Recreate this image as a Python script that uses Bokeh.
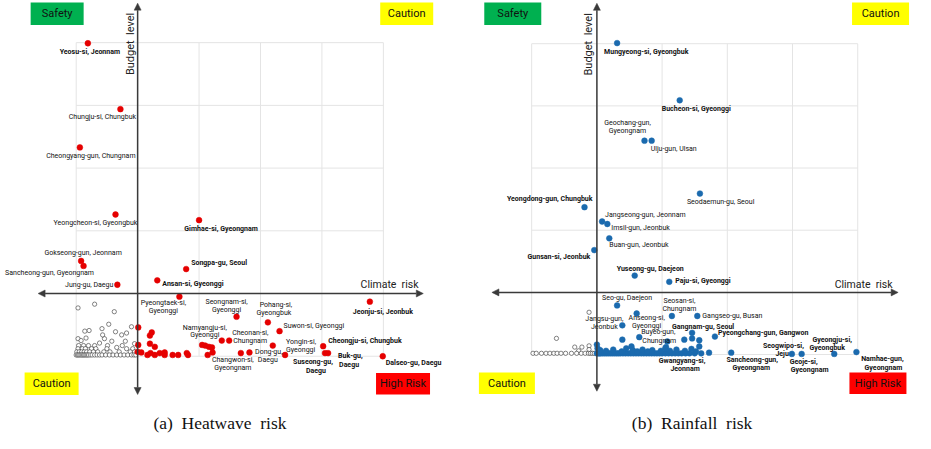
from bokeh.plotting import figure
from bokeh.layouts import row
from bokeh.models import Arrow, NormalHead, ColumnDataSource
from bokeh.core.properties import value
from bokeh.embed import file_html
from bokeh.resources import INLINE

# ---------------- (a) Heatwave risk ----------------
HW_NAMES = ["Yeosu-si, Jeonnam", "Chungju-si, Chungbuk", "Cheongyang-gun, Chungnam",
            "Yeongcheon-si, Gyeongbuk", "Gimhae-si, Gyeongnam", "Gokseong-gun, Jeonnam",
            "Sancheong-gun, Gyeongnam", "Jung-gu, Daegu", "Songpa-gu, Seoul", "Ansan-si, Gyeonggi",
            "Pyeongtaek-si,\nGyeonggi", "Seongnam-si,\nGyeonggi", "Namyangju-si,\nGyeonggi",
            "Cheonan-si,\nChungnam", "Changwon-si,\nGyeongnam", "Pohang-si,\nGyeongbuk",
            "Suwon-si, Gyeonggi", "Dong-gu,\nDaegu", "Yongin-si,\nGyeonggi", "Cheongju-si, Chungbuk",
            "Suseong-gu,\nDaegu", "Buk-gu,\nDaegu", "Jeonju-si, Jeonbuk", "Dalseo-gu, Daegu"]
HW_CLIMATE = [-0.81, -0.28, -0.94, -0.36, 1.00, -0.92, -0.88, -0.33, 0.79, 0.32, 0.68, 1.61,
              1.37, 1.49, 1.68, 2.12, 2.31, 2.20, 2.40, 3.02, 3.05, 3.10, 3.78, 3.99]
HW_BUDGET = [3.99, 2.94, 2.33, 1.26, 1.17, 0.52, 0.44, 0.14, 0.39, 0.21, -0.05, -0.37,
             -0.75, -0.75, -0.95, -0.46, -0.60, -0.83, -0.98, -0.84, -0.95, -0.95, -0.13, -1.00]
HW_BOLD = [1, 0, 0, 0, 1, 0, 0, 0, 1, 1, 0, 0, 0, 0, 0, 0, 0, 0, 0, 1, 1, 1, 1, 1]

HW_RED_CLIMATE = [0.01, 0.23, 0.20, 0.01, 0.20, 0.28, 0.00, 0.06, 0.16, 0.21, 0.28, 0.36, 0.44,
                  0.44, 0.57, 0.66, 0.80, 0.82, 1.05, 1.10, 1.16, 1.21, 1.22, 1.14, 1.82]
HW_RED_BUDGET = [-0.54, -0.62, -0.67, -0.82, -0.80, -0.85, -0.93, -0.94, -0.98, -0.95, -0.98,
                 -0.95, -0.94, -0.98, -0.98, -0.98, -0.95, -0.98, -0.82, -0.83, -0.85, -0.86,
                 -0.94, -0.98, -0.94]

HW_LOW_CLIMATE = [-0.97, -0.70, -0.38, -0.10, -0.47, -0.58, -0.79, -0.86, -0.36, -0.26, -0.18,
                  -0.20, -0.97, -0.92, -0.84, -0.54, -0.62, -0.34, -0.18, -0.42, -0.57, -0.05,
                  -0.96, -0.88, -0.80, -0.70, -0.49, -0.25,
                  -0.97, -0.90, -0.85, -0.75, -0.68, -0.50, -0.08,
                  -0.99, -0.95, -0.91, -0.87, -0.83, -0.78, -0.72, -0.65, -0.55, -0.45, -0.30,
                  -0.12, -0.05,
                  -1.00, -0.98, -0.96, -0.94, -0.92, -0.90, -0.88, -0.86, -0.84, -0.82, -0.80,
                  -0.77, -0.74, -0.70, -0.66, -0.62, -0.58, -0.52, -0.46, -0.40, -0.34, -0.28,
                  -0.22, -0.16, -0.10, -0.06, -0.03]
HW_LOW_BUDGET = [-0.23, -0.17, -0.29, -0.53, -0.49, -0.56, -0.59, -0.60, -0.61, -0.66, -0.63,
                 -0.76, -0.72, -0.75, -0.71, -0.72, -0.79, -0.86, -0.88, -0.76, -0.66, -0.80,
                 -0.83, -0.83, -0.83, -0.83, -0.83, -0.83,
                 -0.88, -0.88, -0.88, -0.88, -0.88, -0.88, -0.88,
                 -0.93, -0.93, -0.93, -0.93, -0.93, -0.93, -0.93, -0.93, -0.93, -0.93, -0.93,
                 -0.93, -0.93,
                 -0.98, -0.98, -0.98, -0.98, -0.98, -0.98, -0.98, -0.98, -0.98, -0.98, -0.98,
                 -0.98, -0.98, -0.98, -0.98, -0.98, -0.98, -0.98, -0.98, -0.98, -0.98, -0.98,
                 -0.98, -0.98, -0.98, -0.98, -0.98]

# label placement (pixel offsets per text line: dx, dy, align)
HW_LABEL_POS = [
    [(2, 9, "center")], [(-18, 8, "center")], [(11, 9, "center")], [(-20, 9, "center")],
    [(22, 9, "center")], [(2, -8, "center")], [(-34, 7, "center")], [(-4, 0, "right")],
    [(5, -6, "left")], [(5, 4, "left")],
    [(-16, 6, "center"), (-16, 14, "center")], [(-10, -15, "center"), (-10, -7, "center")],
    [(-17, -13, "center"), (-17, -6, "center")], [(3, -8, "left"), (4, 0.5, "left")],
    [(-8, 7, "center"), (-8, 15, "center")], [(8, -17, "center"), (6, -9, "center")],
    [(4, -5, "left")], [(-4, 6, "center"), (-5, 14, "center")],
    [(1, -13, "left"), (1, -5, "left")], [(5, -5, "left")],
    [(-12, 9, "center"), (-9, 17.5, "center")], [(10, 3, "left"), (11, 12, "left")],
    [(13, 10, "center")], [(3, 7, "left")],
]

# ---------------- (b) Rainfall risk ----------------
RF_NAMES = ["Mungyeong-si, Gyeongbuk", "Bucheon-si, Gyeonggi", "Geochang-gun,\nGyeongnam",
            "Ulju-gun, Ulsan", "Seodaemun-gu, Seoul", "Yeongdong-gun, Chungbuk",
            "Jangseong-gun, Jeonnam", "Imsil-gun, Jeonbuk", "Buan-gun, Jeonbuk",
            "Gunsan-si, Jeonbuk", "Yuseong-gu, Daejeon", "Paju-si, Gyeonggi", "Seo-gu, Daejeon",
            "Seosan-si,\nChungnam", "Jangsu-gun,\nJeonbuk", "Anseong-si,\nGyeonggi",
            "Buyeo-gun,\nChungnam", "Gangseo-gu, Busan", "Gangnam-gu, Seoul",
            "Pyeongchang-gun, Gangwon", "Seogwipo-si,\nJeju", "Geoje-si,\nGyeongnam",
            "Gyeongju-si,\nGyeongbuk", "Namhae-gun,\nGyeongnam", "Gwangyang-si,\nJeonnam",
            "Sancheong-gun,\nGyeongnam"]
RF_CLIMATE = [0.31, 1.27, 0.73, 0.84, 1.58, -0.19, 0.08, 0.16, 0.19, -0.04, 0.58, 1.11, 0.31,
              1.15, 0.39, 0.61, 0.65, 1.54, 1.46, 1.81, 2.99, 3.14, 3.64, 3.98, 1.72, 2.06]
RF_BUDGET = [4.01, 3.09, 2.44, 2.44, 1.59, 1.37, 1.14, 1.10, 0.87, 0.68, 0.27, 0.17, -0.21,
             -0.38, -0.53, -0.34, -0.72, -0.38, -0.65, -0.71, -0.99, -0.99, -0.99, -0.96,
             -0.97, -0.97]
RF_BOLD = [1, 1, 0, 0, 0, 1, 0, 0, 0, 1, 1, 1, 0, 0, 0, 0, 0, 0, 1, 1, 1, 1, 1, 1, 1, 1]

RF_BLUE_CLIMATE = [0.39, 1.08, 1.34, 1.46, 1.57, 1.57, 0.00, 0.53, 1.06,
                   0.00, 0.02, 0.04, 0.06, 0.09, 0.12, 0.15, 0.18, 0.21, 0.24, 0.27, 0.30, 0.33,
                   0.36, 0.40, 0.44, 0.48, 0.52, 0.56, 0.60, 0.64, 0.68, 0.72, 0.76, 0.80, 0.84,
                   0.88, 0.92, 0.96, 1.00, 1.05, 1.10, 1.15, 1.20, 1.25, 1.30, 1.36, 1.42, 1.50,
                   1.60,
                   0.01, 0.05, 0.14, 0.25, 0.38, 0.45, 0.55, 0.62, 0.70, 0.78, 0.85, 0.98, 1.05,
                   1.12, 1.22, 1.35, 1.45, 1.52]
RF_BLUE_BUDGET = [-0.76, -0.79, -0.76, -0.74, -0.77, -0.87, -0.84, -0.87, -0.88,
                  -0.98, -0.98, -0.98, -0.98, -0.98, -0.98, -0.98, -0.98, -0.98, -0.98, -0.98,
                  -0.98, -0.98, -0.98, -0.98, -0.98, -0.98, -0.98, -0.98, -0.98, -0.98, -0.98,
                  -0.98, -0.98, -0.98, -0.98, -0.98, -0.98, -0.98, -0.98, -0.98, -0.98, -0.98,
                  -0.98, -0.98, -0.98, -0.98, -0.98, -0.98, -0.98,
                  -0.90, -0.93, -0.94, -0.92, -0.95, -0.90, -0.93, -0.95, -0.92, -0.95, -0.93,
                  -0.94, -0.90, -0.94, -0.92, -0.94, -0.91, -0.95]

RF_LOW_CLIMATE = [-0.12, -0.62, -0.34, -0.23, -0.12, -0.12, -0.28,
                  -0.98, -0.93, -0.85, -0.78, -0.72, -0.66, -0.61, -0.55, -0.48, -0.39, -0.31,
                  -0.24, -0.18, -0.13, -0.10, -0.07, -0.04]
RF_LOW_BUDGET = [-0.32, -0.74, -0.88, -0.88, -0.86, -0.92, -0.94,
                 -0.98, -0.98, -0.98, -0.98, -0.98, -0.98, -0.98, -0.98, -0.98, -0.98, -0.98,
                 -0.98, -0.98, -0.98, -0.98, -0.98, -0.98]

RF_LABEL_POS = [
    [(-13, 9, "left")], [(-18, 9, "left")], [(-17, -18, "center"), (-17, -9.5, "center")],
    [(-1, 8, "left")], [(-13, 8, "left")], [(8, -8, "right")], [(3, -7, "left")],
    [(4, 4, "left")], [(0, 7, "left")], [(-4, 7, "right")], [(-18, -7, "left")],
    [(6, -1, "left")], [(-15, -7, "left")], [(7.5, -15, "center"), (7.5, -7, "center")],
    [(-18, -6, "center"), (-18, 2, "center")], [(10, 4, "center"), (10, 12, "center")],
    [(19, -5, "center"), (20, 3.5, "center")], [(5, 0, "left")], [(11, -6, "center")],
    [(3, -4, "left")], [(12, -8, "right"), (-3, 0, "right")],
    [(2, 8, "center"), (8, 16, "center")], [(-2, -14, "center"), (-7, -6, "center")],
    [(26, 7, "center"), (27, 15.5, "center")], [(-27, 8, "center"), (-24, 16, "center")],
    [(21, 7, "center"), (20, 15.5, "center")],
]

GRID_TICKS = [-1, 0, 1, 2, 3, 4]
QUADRANTS = ["Safety", "Caution", "Caution", "High Risk"]
QUAD_COLORS = ["#00B050", "#FFFF00", "#FFFF00", "#FF0000"]

FONT = "Roboto"


def panel(width, xr, yr, names, cx, by, bold, pos, fx, fy, fcolor, lx, ly,
          quad_xy, quad_size, axis_ext, ytitle_xy, xtitle_xy, caption, cap_xy):
    p = figure(width=width, height=433, x_range=xr, y_range=yr, x_axis_type=None,
               y_axis_type=None, toolbar_location=None, output_backend="svg", min_border=0)
    p.outline_line_color = None
    p.background_fill_color = "white"

    # grid box
    p.segment(x0=GRID_TICKS, x1=GRID_TICKS, y0=[-1] * 6, y1=[4] * 6,
              line_color="#E4E4E4", line_width=1)
    p.segment(x0=[-1] * 6, x1=[4] * 6, y0=GRID_TICKS, y1=GRID_TICKS,
              line_color="#E4E4E4", line_width=1)

    # low-risk hollow markers
    p.scatter(lx, ly, size=4.3, fill_color="white", line_color="#333333", line_width=0.6)
    # filled markers
    p.scatter(fx, fy, size=5.8, fill_color=fcolor, line_color=fcolor, line_width=0.5)
    p.scatter(cx, by, size=5.8, fill_color=fcolor, line_color=fcolor, line_width=0.5)

    # axes arrows through origin
    x0, x1, y0, y1 = axis_ext
    for (xs, ys, xe, ye) in [(0, y0, 0, y1), (x0, 0, x1, 0)]:
        p.add_layout(Arrow(x_start=xs, y_start=ys, x_end=xe, y_end=ye,
                           line_color="#3A3A3A", line_width=1.5,
                           start=NormalHead(size=7, fill_color="#3A3A3A", line_color="#3A3A3A", line_width=0.5),
                           end=NormalHead(size=7, fill_color="#3A3A3A", line_color="#3A3A3A", line_width=0.5)))

    # point labels
    groups = {}
    for name, x, y, b, lines_pos in zip(names, cx, by, bold, pos):
        for line, (dx, dy, al) in zip(name.split("\n"), lines_pos):
            g = groups.setdefault((al, b), dict(x=[], y=[], t=[], dx=[], dy=[]))
            g["x"].append(x); g["y"].append(y); g["t"].append(line)
            g["dx"].append(dx); g["dy"].append(dy)
    for (al, b), g in groups.items():
        src = ColumnDataSource(g)
        p.text(x="x", y="y", text="t", x_offset="dx", y_offset="dy", source=src,
               text_align=al, text_baseline="middle", text_font=value(FONT),
               text_font_size="7px", text_font_style="bold" if b else "normal",
               text_color="#111111")

    # quadrant boxes
    qx = [q[0] for q in quad_xy]
    qy = [q[1] for q in quad_xy]
    p.rect(x=qx, y=qy, width=[s[0] for s in quad_size], height=[s[1] for s in quad_size],
           width_units="screen", height_units="screen", fill_color=QUAD_COLORS,
           line_color=None)
    p.text(x=qx, y=qy, text=QUADRANTS, text_align="center", text_baseline="middle",
           text_font=value(FONT), text_font_size="11px", text_color="#111111")

    # axis titles
    p.text(x=[ytitle_xy[0]], y=[ytitle_xy[1]], text=["Budget\u00a0 level"], angle=1.5708,
           text_align="center", text_baseline="middle", text_font=value(FONT),
           text_font_size="11px", text_color="#222222")
    p.text(x=[xtitle_xy[0]], y=[xtitle_xy[1]], text=["Climate\u00a0 risk"],
           text_align="center", text_baseline="middle", text_font=value(FONT),
           text_font_size="10.5px", text_color="#222222")
    # caption
    p.text(x=[cap_xy[0]], y=[cap_xy[1]], text=[caption], text_align="center",
           text_baseline="middle", text_font=value("Liberation Serif"),
           text_font_size="17.5px", text_color="#111111")
    return p


p1 = panel(462, (-2.232, 5.288), (-2.232, 4.672), HW_NAMES, HW_CLIMATE, HW_BUDGET, HW_BOLD,
           HW_LABEL_POS, HW_RED_CLIMATE, HW_RED_BUDGET, "#E50000", HW_LOW_CLIMATE, HW_LOW_BUDGET,
           [(-1.31, 4.46), (4.38, 4.46), (-1.40, -1.44), (4.32, -1.44)],
           [(53, 22.5), (53, 22.5), (54, 22.5), (54, 21.5)],
           (-1.62, 4.65, -1.61, 4.63), (-0.12, 3.98), (4.10, 0.14),
           "(a)\u00a0\u00a0Heatwave\u00a0\u00a0risk", (1.34, -2.06))

p2 = panel(453, (-2.061, 4.886), (-2.270, 4.695), RF_NAMES, RF_CLIMATE, RF_BUDGET, RF_BOLD,
           RF_LABEL_POS, RF_BLUE_CLIMATE, RF_BLUE_BUDGET, "#1B6AAE", RF_LOW_CLIMATE, RF_LOW_BUDGET,
           [(-1.29, 4.48), (4.35, 4.48), (-1.38, -1.46), (4.31, -1.46)],
           [(57, 22.5), (57, 22.5), (56, 21.5), (57, 21.5)],
           (-1.61, 4.62, -1.59, 4.65), (-0.13, 3.99), (4.09, 0.12),
           "(b)\u00a0\u00a0Rainfall\u00a0\u00a0risk", (1.46, -2.10))

layout = row(p1, p2)
open("out.html", "w").write(file_html(layout, INLINE))
